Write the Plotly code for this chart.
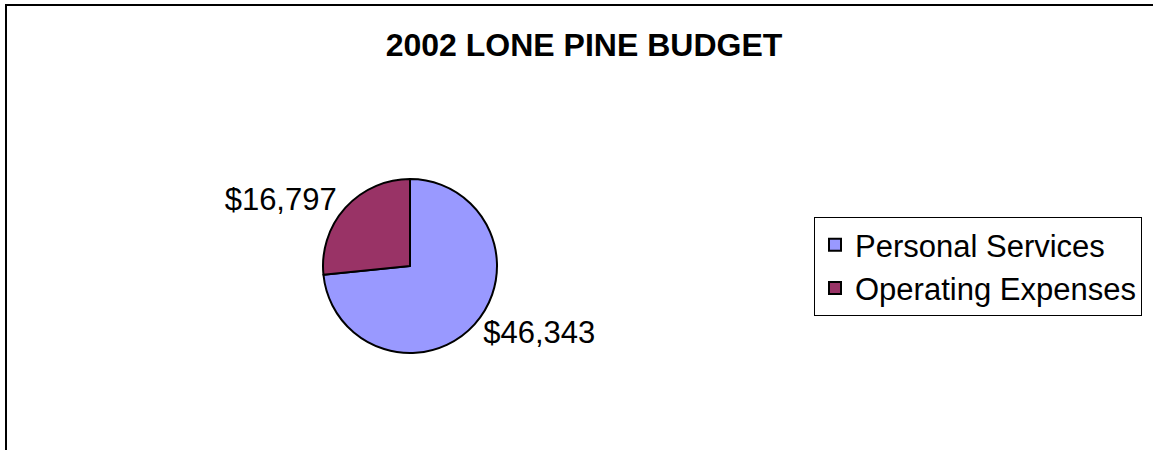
import plotly.graph_objects as go

categories = ["Personal Services", "Operating Expenses"]
values = [46343, 16797]
colors = ["#9999FF", "#993366"]
title_text = "2002 LONE PINE BUDGET"

W, H = 1153, 450
FONT = "Liberation Sans, Arial, sans-serif"

fig = go.Figure(go.Pie(
    labels=categories,
    values=values,
    marker=dict(colors=colors, line=dict(color="black", width=2)),
    sort=False,
    direction="clockwise",
    rotation=0,
    textposition="outside",
    texttemplate="$%{value:,}",
    textfont=dict(family=FONT, size=31, color="black"),
    hoverinfo="label+value",
    domain=dict(x=[323 / W, 497 / W], y=[(184 - 87) / H, (184 + 87) / H]),
    showlegend=True,
))

fig.update_layout(
    width=W, height=H,
    margin=dict(l=0, r=0, t=0, b=0),
    paper_bgcolor="white",
    plot_bgcolor="white",
    title=dict(text="<b>" + title_text + "</b>", x=584 / W, xanchor="center",
               y=1 - 45 / H, yanchor="middle",
               font=dict(family=FONT, size=32, color="black")),
    legend=dict(x=814 / W, y=1 - 217 / H, xanchor="left", yanchor="top",
                bordercolor="black", borderwidth=1, bgcolor="white",
                font=dict(family=FONT, size=31, color="black"),
                itemwidth=30),
    shapes=[dict(type="rect", xref="paper", yref="paper",
                 x0=6 / W, x1=1.05, y0=-0.05, y1=1 - 5 / H,
                 line=dict(color="black", width=2), fillcolor="rgba(0,0,0,0)")],
)

fig.write_html("out.html", config={"displayModeBar": False},
               post_script="document.body.style.margin='0';document.body.style.overflow='hidden';")
